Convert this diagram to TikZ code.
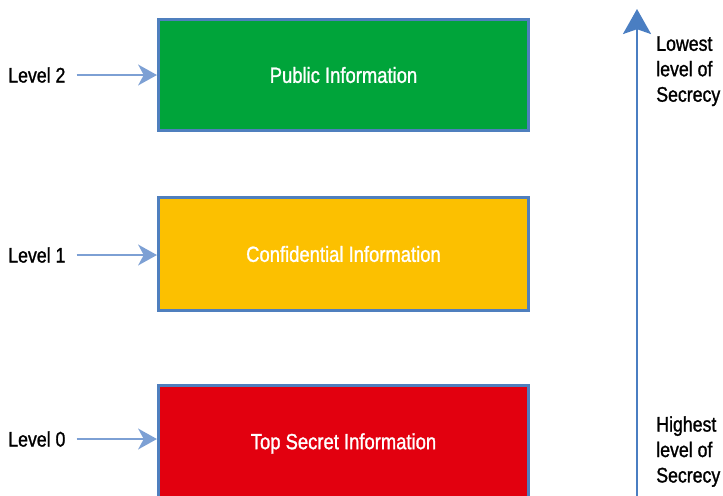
\documentclass[tikz,border=0pt]{standalone}
\usepackage{fontspec}
\setmainfont{Liberation Sans}[FakeStretch=0.84, FakeBold=1.2]
\usepackage{tikz}
\usetikzlibrary{arrows.meta}

\definecolor{boxline}{HTML}{4F7FBE}
\definecolor{arrowblue}{HTML}{7DA0D4}
\definecolor{axisblue}{HTML}{4A7EC2}
\definecolor{pubgreen}{HTML}{00A43A}
\definecolor{confyellow}{HTML}{FCC000}
\definecolor{secretred}{HTML}{E2000F}

\begin{document}
\begin{tikzpicture}[
    x=0.025cm, y=-0.025cm,
    level/.style={font=\fontsize{15}{18}\selectfont, inner sep=0pt, anchor=west},
    box/.style={draw=boxline, line width=3*0.025cm, minimum width=9.25cm, text=white, font=\fontsize{15.6}{18}\selectfont},
    levelarrow/.style={draw=arrowblue, line width=2*0.025cm, shorten <=0.275cm, -{Stealth[length=0.47cm, width=0.52cm, inset=0.14cm]}},
    note/.style={font=\fontsize{15}{18.1}\selectfont, align=left, inner sep=0pt, anchor=north west}
  ]
    \useasboundingbox (0,0) rectangle (723,495);

    % Boxes
    \node[box, fill=pubgreen, minimum height=2.775cm] (b2) at (343.5,75) {Public Information};
    \node[box, fill=confyellow, minimum height=2.8cm] (b1) at (343.5,254) {Confidential Information};
    \node[box, fill=secretred, minimum height=2.9cm] (b0) at (343.5,443.5) {Top Secret Information};

    % Levels
    \node[level] (l2) at (8,75) {Level 2};
    \node[level] (l1) at (8,255) {Level 1};
    \node[level] (l0) at (8,439) {Level 0};

    \draw[levelarrow] (l2.east) -- (b2.west |- l2.east);
    \draw[levelarrow] (l1.east) -- (b1.west |- l1.east);
    \draw[levelarrow] (l0.east) -- (b0.west |- l0.east);

    % Secrecy axis
    \coordinate (axbot) at (637,497);
    \coordinate (axtop) at (637,9);
    \draw[axisblue, line width=2.5*0.025cm, -{Stealth[length=0.625cm, width=0.7cm, inset=0.12cm]}] (axbot) -- (axtop);

    \node[note] (low) at (656,36) {Lowest\\level of\\Secrecy};
    \node[note] (high) at (656,416) {Highest\\level of\\Secrecy};
  \end{tikzpicture}
\end{document}
